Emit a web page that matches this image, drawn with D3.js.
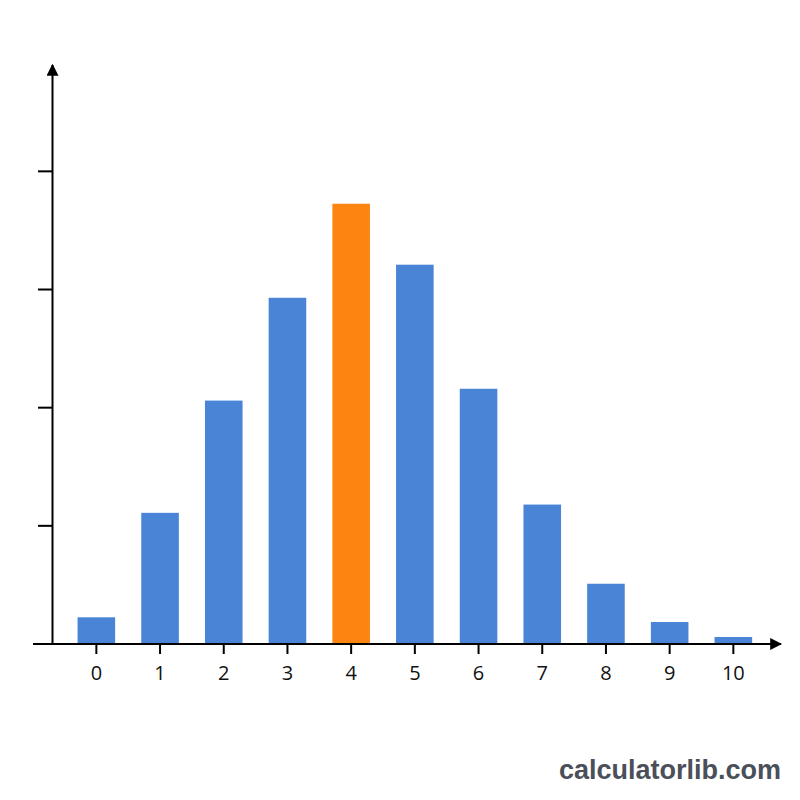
<html>
<head>
<script src="https://d3js.org/d3.v7.min.js"></script>
<style>
  body {margin: 0; background: #fff; font-family: "Liberation Sans", Arial, sans-serif;}
</style>
</head>
<body>
<script>
    // outcomes and bar heights (in y-tick units)
    var outcomes = ["0","1","2","3","4","5","6","7","8","9","10"]
    var heights = [0.226, 1.11, 2.06, 2.93, 3.726, 3.21, 2.16, 1.18, 0.51, 0.186, 0.059]
    var yTicks = [1, 2, 3, 4]
    var highlight = "4"

    var width = 800, height = 800
    var svg = d3.select("body").append("svg")
        .attr("width", width)
        .attr("height", height)

    var defs = svg.append("defs")
    defs.append("marker")
        .attr("id", "arrow")
        .attr("viewBox", "0 0 10 10")
        .attr("refX", 9).attr("refY", 5)
        .attr("markerWidth", 12).attr("markerHeight", 12)
        .attr("markerUnits", "userSpaceOnUse")
        .attr("orient", "auto")
        .append("path")
        .attr("d", "M0,0L10,5L0,10Z")
        .attr("fill", "#000")

    var x = d3.scaleBand()
        .domain(outcomes)
        .range([64.5, 765.2])
        .paddingInner(0.41)
        .paddingOuter(0.205)

    var y = d3.scaleLinear()
        .domain([0, 4.9])
        .range([644, 65])

    // bars
    svg.append("g")
        .selectAll("rect")
        .data(outcomes)
        .enter()
        .append("rect")
        .attr("x", function(d){ return x(d) })
        .attr("width", x.bandwidth())
        .attr("y", function(d, i){ return y(heights[i]) })
        .attr("height", function(d, i){ return y(0) - y(heights[i]) })
        .attr("fill", function(d){ return d == highlight ? "#fd8410" : "#4a84d6" })

    // y axis line with arrow
    svg.append("line")
        .attr("x1", 52.5).attr("x2", 52.5)
        .attr("y1", y(0)).attr("y2", 65)
        .attr("stroke", "#000").attr("stroke-width", 2)
        .attr("marker-end", "url(#arrow)")

    svg.append("g")
        .selectAll("line")
        .data(yTicks)
        .enter().append("line")
        .attr("x1", 38).attr("x2", 52.5)
        .attr("y1", function(d){ return y(d) })
        .attr("y2", function(d){ return y(d) })
        .attr("stroke", "#000").attr("stroke-width", 2)

    // x axis line with arrow
    svg.append("line")
        .attr("x1", 33).attr("x2", 781)
        .attr("y1", y(0)).attr("y2", y(0))
        .attr("stroke", "#000").attr("stroke-width", 2)
        .attr("marker-end", "url(#arrow)")

    var xt = svg.append("g")
        .selectAll("g")
        .data(outcomes)
        .enter().append("g")
        .attr("transform", function(d){ return "translate(" + (x(d) + x.bandwidth()/2) + ",0)" })

    xt.append("line")
        .attr("y1", y(0)).attr("y2", y(0) + 10)
        .attr("stroke", "#000").attr("stroke-width", 2)

    xt.append("text")
        .attr("y", 680)
        .attr("text-anchor", "middle")
        .style("font-family", "'Open Sans', 'DejaVu Sans', sans-serif")
        .style("font-size", "20px")
        .style("fill", "#111")
        .text(function(d){ return d })

    // watermark
    svg.append("text")
        .attr("x", 781).attr("y", 779)
        .attr("text-anchor", "end")
        .style("font-family", "'Liberation Sans', Arial, sans-serif")
        .style("font-weight", "bold")
        .style("font-size", "27px")
        .style("fill", "#4a4f5a")
        .text("calculatorlib.com")
</script>
</body>
</html>
